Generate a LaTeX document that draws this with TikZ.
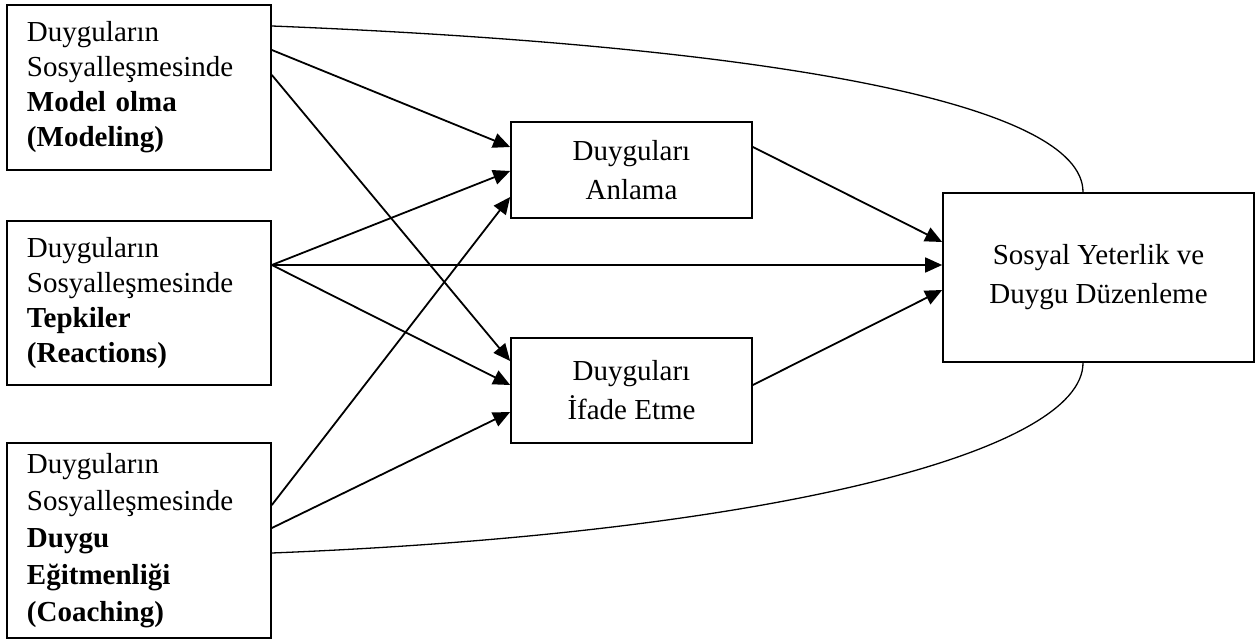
\documentclass[tikz,border=0pt]{standalone}
\usepackage{fontspec}
\setmainfont{Liberation Serif}
\usetikzlibrary{arrows.meta}
\begin{document}
\begin{tikzpicture}[x=1pt,y=-1pt,
  box/.style={draw=black,line width=1.7pt,inner xsep=20pt,inner ysep=0pt},
  leftbox/.style={box,minimum width=264pt,text width=224pt,align=left,font=\fontsize{29}{35}\selectfont},
  midbox/.style={box,inner xsep=0pt,align=center,font=\fontsize{29}{39}\selectfont},
  arr/.style={line width=1.8pt,-{Triangle[length=17pt,width=15pt]}},
  curve/.style={line width=1.3pt}]
\useasboundingbox (0,0) rectangle (1255,639);
\node[leftbox,minimum height=165pt] (m) at (139,87.5)
  {Duyguların\\Sosyalleşmesinde\\\textbf{Model olma}\\\textbf{(Modeling)}};
\node[leftbox,minimum height=164pt] (r) at (139,303)
  {Duyguların\\Sosyalleşmesinde\\\textbf{Tepkiler}\\\textbf{(Reactions)}};
\node[leftbox,minimum height=195pt,font=\fontsize{29}{37}\selectfont] (c) at (139,540.5)
  {Duyguların\\Sosyalleşmesinde\\\textbf{Duygu}\\\textbf{Eğitmenliği}\\\textbf{(Coaching)}};
\node[midbox,minimum width=241pt,minimum height=96pt] (an) at (631.5,170)
  {Duyguları\\Anlama};
\node[midbox,minimum width=241pt,minimum height=105pt] (if) at (631.5,390.5)
  {Duyguları\\İfade Etme};
\node[midbox,minimum width=311pt,minimum height=169pt] (s) at (1098.5,277.5)
  {Sosyal Yeterlik ve\\Duygu Düzenleme};
% model
\draw[curve] ([yshift=61.5pt]m.east) .. controls (771,46) and (1083,103) .. ([xshift=-15.5pt]s.north);
\draw[arr] ([yshift=37.5pt]m.east) -- ([yshift=23pt]an.west);
\draw[arr] ([yshift=12.5pt]m.east) -- ([yshift=29.5pt]if.west);
% reactions
\draw[arr] ([yshift=38pt]r.east) -- ([yshift=-1pt]an.west);
\draw[arr] ([yshift=38pt]r.east) -- ([yshift=12.5pt]s.west);
\draw[arr] ([yshift=38pt]r.east) -- ([yshift=5.5pt]if.west);
% coaching
\draw[arr] ([yshift=35.5pt]c.east) -- ([yshift=-27pt]an.west);
\draw[arr] ([yshift=12.5pt]c.east) -- ([yshift=-21.5pt]if.west);
\draw[curve] ([yshift=-12.5pt]c.east) .. controls (771,533) and (1083,452) .. ([xshift=-15.5pt]s.south);
% mediators
\draw[arr] ([yshift=23pt]an.east) -- ([yshift=35.5pt]s.west);
\draw[arr] ([yshift=5.5pt]if.east) -- ([yshift=-12.5pt]s.west);
\end{tikzpicture}
\end{document}
